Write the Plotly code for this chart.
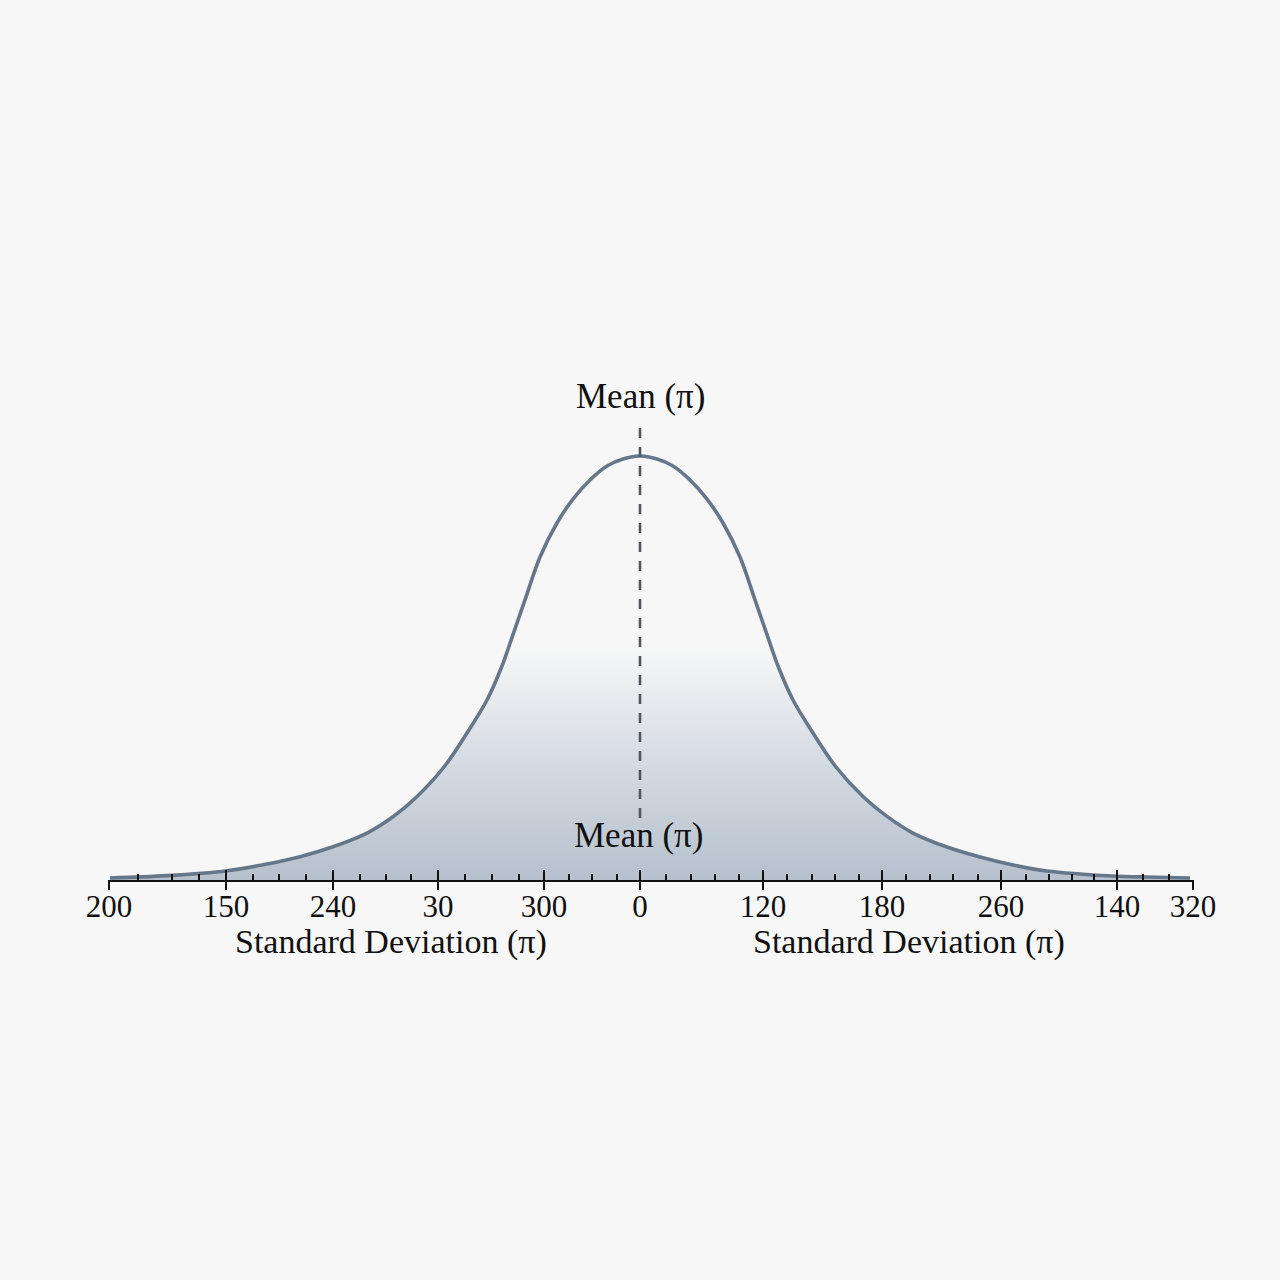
import plotly.graph_objects as go

# ---- data ----
curve_x = [-5.30, -4.73, -4.13, -3.73, -3.40, -3.07, -2.73, -2.47, -2.24, -1.96,
           -1.73, -1.53, -1.39, -1.27, -1.15, -1.00, -0.83, -0.67, -0.50, -0.33, -0.17, 0.00,
           0.17, 0.33, 0.50, 0.67, 0.83, 1.00, 1.15, 1.27, 1.39, 1.53, 1.73, 1.96,
           2.24, 2.47, 2.73, 3.07, 3.40, 3.73, 4.07, 4.40, 4.73, 5.07, 5.50]
curve_y = [0.0019, 0.0041, 0.0088, 0.0151, 0.0220, 0.0314, 0.0443, 0.0596, 0.0778, 0.1066,
           0.1387, 0.1698, 0.1995, 0.2315, 0.2642, 0.3047, 0.3368, 0.3594, 0.3774, 0.3906, 0.3972, 0.4000,
           0.3972, 0.3906, 0.3774, 0.3594, 0.3368, 0.3047, 0.2642, 0.2315, 0.1995, 0.1698, 0.1387, 0.1066,
           0.0778, 0.0600, 0.0443, 0.0311, 0.0217, 0.0142, 0.0085, 0.0057, 0.0038, 0.0028, 0.0019]

tick_positions = [-5.31, -4.14, -3.07, -2.02, -0.96, 0.00, 1.23, 2.42, 3.61, 4.77, 5.53]
tick_labels = ["200", "150", "240", "30", "300", "0", "120", "180", "260", "140", "320"]

minor_positions = [-5.02, -4.68, -4.41, -3.875, -3.61, -3.34, -2.805, -2.54, -2.29,
                   -1.75, -1.48, -1.215, -0.715, -0.48, -0.23,
                   0.26, 0.505, 0.75, 0.99, 1.47, 1.72, 1.95, 2.185,
                   2.655, 2.90, 3.13, 3.375, 3.86, 4.09, 4.32, 4.54, 5.03, 5.285]

mean_x = 0.0
mean_line_top = 0.4264
mean_line_bottom = 0.058
mean_label = "Mean (π)"
axis_label = "Standard Deviation (π)"
axis_label_x = [-2.49, 2.69]

BG = "#f7f7f7"
FONT = "Liberation Serif, Times New Roman, serif"
INK = "#111111"

fig = go.Figure()

fig.add_trace(go.Scatter(
    x=curve_x, y=curve_y, mode="lines",
    line=dict(color="#66778a", width=3.6, shape="spline", smoothing=1.0),
    fill="tozeroy",
    fillgradient=dict(type="vertical", start=0, stop=0.22,
                      colorscale=[[0, "#b6c1cd"], [0.45, "#d1d8e0"], [1, BG]]),
    hoverinfo="skip", showlegend=False,
))

fig.add_trace(go.Scatter(
    x=[mean_x, mean_x], y=[mean_line_top, mean_line_bottom], mode="lines",
    line=dict(color="#50575f", width=2.6, dash="10px,9px"),
    hoverinfo="skip", showlegend=False,
))

# invisible trace to carry the overlay axis (upward tick marks)
fig.add_trace(go.Scatter(x=[mean_x], y=[0], xaxis="x2", mode="markers",
                         marker=dict(opacity=0), hoverinfo="skip", showlegend=False))

xr = [-5.32, 5.54]
fig.update_layout(
    width=1280, height=1280,
    paper_bgcolor=BG, plot_bgcolor=BG,
    margin=dict(l=108, r=86, t=244, b=400),
    showlegend=False,
    xaxis=dict(range=xr, showgrid=False, zeroline=False,
               showline=True, linecolor=INK, linewidth=2,
               tickmode="array", tickvals=tick_positions, ticktext=tick_labels,
               ticks="outside", ticklen=8, tickwidth=2, tickcolor=INK,
               ticklabelstandoff=-10,
               tickfont=dict(family=FONT, size=31, color=INK)),
    xaxis2=dict(range=xr, overlaying="x", anchor="y", side="bottom",
                showgrid=False, zeroline=False, showline=False,
                tickmode="array", tickvals=tick_positions, showticklabels=False,
                ticks="inside", ticklen=10, tickwidth=2, tickcolor=INK,
                minor=dict(tickmode="array", tickvals=minor_positions,
                           ticks="inside", ticklen=6, tickwidth=2, tickcolor=INK,
                           showgrid=False)),
    yaxis=dict(range=[0, 0.6], visible=False),
)

fig.add_annotation(x=mean_x, y=0.4566, text=mean_label, showarrow=False,
                   font=dict(family=FONT, size=35, color=INK), yanchor="middle")
fig.add_annotation(x=mean_x - 0.02, y=0, yshift=45, text=mean_label, showarrow=False,
                   font=dict(family=FONT, size=35, color=INK), yanchor="middle")
for ax in axis_label_x:
    fig.add_annotation(x=ax, y=0, yshift=-62, text=axis_label, showarrow=False,
                       font=dict(family=FONT, size=34, color=INK), yanchor="middle")

fig.write_html("out.html")
